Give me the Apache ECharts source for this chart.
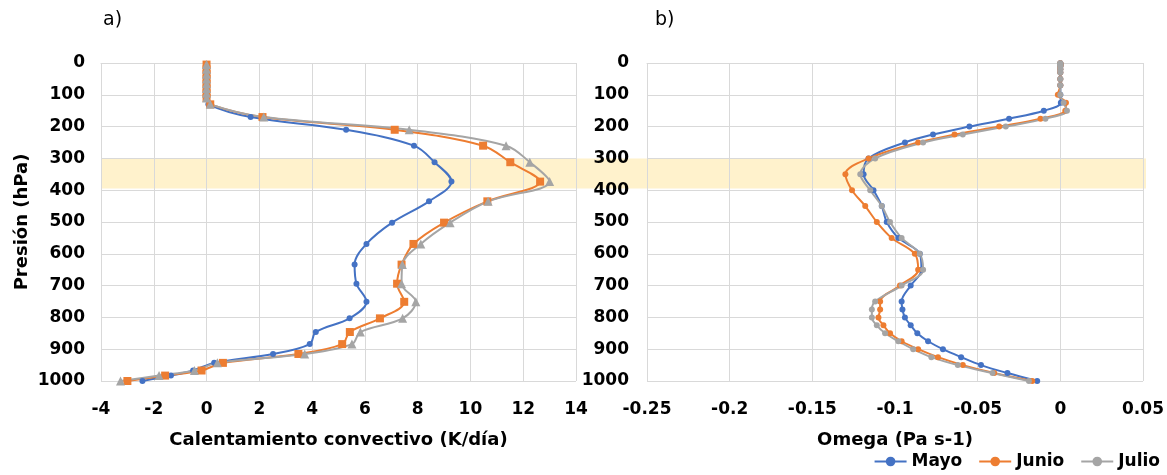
<!DOCTYPE html>
<html>
<head>
<meta charset="utf-8">
<script src="https://cdn.jsdelivr.net/npm/echarts@6/dist/echarts.min.js"></script>
<style>
  html, body { margin: 0; padding: 0; background: #fff; }
  #chart { width: 1167px; height: 475px; }
</style>
</head>
<body>
<div id="chart"></div>
<script>
// a) calentamiento convectivo, niveles del modelo (hPa)
const presA = [5, 20, 35, 50, 65, 80, 95, 110, 130, 170, 210, 260, 312, 373, 435, 502, 569, 634, 694, 751, 803, 846, 884, 915, 943, 967, 983, 1000];
const calMayo = [0, 0, 0, 0, 0, 0, 0, 0, 0.07, 1.67, 5.29, 7.86, 8.64, 9.28, 8.43, 7.03, 6.06, 5.61, 5.68, 6.06, 5.42, 4.14, 3.91, 2.52, 0.29, -0.51, -1.35, -2.43];
const calJunio = [0, 0, 0, 0, 0, 0, 0, 0, 0.14, 2.12, 7.13, 10.48, 11.51, 12.64, 10.64, 9.0, 7.84, 7.39, 7.22, 7.49, 6.57, 5.43, 5.14, 3.48, 0.62, -0.19, -1.57, -3.0];
const calJulio = [0, 0, 0, 0, 0, 0, 0, 0, 0.14, 2.17, 7.68, 11.35, 12.25, 13.0, 10.67, 9.23, 8.12, 7.42, 7.39, 7.93, 7.43, 5.83, 5.51, 3.72, 0.41, -0.46, -1.8, -3.26];

// b) omega, niveles de presion (hPa)
const presB = [1, 2, 3, 5, 7, 10, 20, 30, 50, 70, 100, 125, 150, 175, 200, 225, 250, 300, 350, 400, 450, 500, 550, 600, 650, 700, 750, 775, 800, 825, 850, 875, 900, 925, 950, 975, 1000];
const omeMayo = [0, 0, 0, 0, 0, 0, 0, 0, 0, 0, 0, 0.0003, -0.010, -0.031, -0.055, -0.077, -0.094, -0.116, -0.119, -0.113, -0.108, -0.105, -0.098, -0.085, -0.084, -0.0905, -0.096, -0.0955, -0.094, -0.0905, -0.0865, -0.080, -0.071, -0.060, -0.048, -0.032, -0.014];
const omeJunio = [0, 0, 0, 0, 0, 0, 0, 0, 0, 0, -0.0015, 0.0034, 0.003, -0.012, -0.037, -0.064, -0.086, -0.116, -0.130, -0.126, -0.118, -0.111, -0.102, -0.088, -0.086, -0.097, -0.109, -0.109, -0.110, -0.107, -0.103, -0.096, -0.086, -0.074, -0.059, -0.040, -0.017];
const omeJulio = [0, 0, 0, 0, 0, 0, 0, 0, 0, 0, 0, 0.002, 0.004, -0.009, -0.033, -0.059, -0.083, -0.112, -0.121, -0.115, -0.108, -0.103, -0.096, -0.085, -0.083, -0.096, -0.112, -0.114, -0.114, -0.111, -0.106, -0.098, -0.089, -0.078, -0.062, -0.041, -0.019];

const capa = [300, 395]; // franja resaltada

const colores = { Mayo: "#4472C4", Junio: "#ED7D31", Julio: "#A5A5A5" };
const fuente = "DejaVu Sans";

const pares = (xs, ps) => xs.map((v, i) => [v, ps[i]]);

const lbl = { color: "#000", fontFamily: fuente, fontWeight: "bold", fontSize: 17 };
const titulo = { color: "#000", fontFamily: fuente, fontWeight: "bold", fontSize: 18 };
const rejilla = { show: true, lineStyle: { color: "#D9D9D9", width: 1 } };
const ejeLinea = { show: true, lineStyle: { color: "#D9D9D9" } };
const sinComa = (v) => String(v);

const serie = (name, data, xi, simbolo, tam) => ({
	name: name,
	type: "line",
	xAxisIndex: xi,
	yAxisIndex: xi,
	data: data,
	smooth: 0.35,
	symbol: simbolo,
	symbolSize: tam,
	color: colores[name],
	lineStyle: { width: 2 },
	z: 3,
});

let myChart = echarts.init(document.getElementById("chart"));
let option = {
	animation: false,
	title: [
		{ text: "a)", left: 98, top: 6, textStyle: { fontFamily: fuente, fontWeight: "normal", fontSize: 19, color: "#000" } },
		{ text: "b)", left: 650, top: 6, textStyle: { fontFamily: fuente, fontWeight: "normal", fontSize: 19, color: "#000" } },
	],
	legend: {
		data: ["Mayo", "Junio", "Julio"],
		right: 2,
		bottom: 0,
		itemWidth: 32,
		itemHeight: 12,
		itemGap: 16,
		textStyle: { color: "#000", fontFamily: fuente, fontWeight: "bold", fontSize: 17 },
	},
	grid: [
		{ left: 101, top: 63, width: 475, height: 318 },
		{ left: 647, top: 63, width: 496, height: 318 },
		{ left: 101, top: 63, width: 1045, height: 318 },
	],
	xAxis: [
		{
			type: "value", gridIndex: 0, min: -4, max: 14, interval: 2,
			axisLine: ejeLinea, axisTick: { show: false }, splitLine: rejilla,
			axisLabel: Object.assign({ margin: 20, formatter: sinComa }, lbl),
			name: "Calentamiento convectivo (K/día)", nameLocation: "middle", nameGap: 50,
			nameTextStyle: titulo,
		},
		{
			type: "value", gridIndex: 1, min: -0.25, max: 0.05, interval: 0.05,
			axisLine: ejeLinea, axisTick: { show: false }, splitLine: rejilla,
			axisLabel: Object.assign({ margin: 20 }, lbl),
			name: "Omega (Pa s-1)", nameLocation: "middle", nameGap: 50,
			nameTextStyle: titulo,
		},
		{ type: "value", gridIndex: 2, min: 0, max: 1, show: false },
	],
	yAxis: [
		{
			type: "value", gridIndex: 0, inverse: true, min: 0, max: 1000, interval: 100,
			axisLine: ejeLinea, axisTick: { show: false }, splitLine: rejilla,
			axisLabel: Object.assign({ margin: 16, formatter: sinComa }, lbl),
			name: "Presión (hPa)", nameLocation: "middle", nameGap: 70, nameRotate: 90,
			nameTextStyle: titulo,
		},
		{
			type: "value", gridIndex: 1, inverse: true, min: 0, max: 1000, interval: 100,
			axisLine: ejeLinea, axisTick: { show: false }, splitLine: rejilla,
			axisLabel: Object.assign({ margin: 18, formatter: sinComa }, lbl),
		},
		{ type: "value", gridIndex: 2, inverse: true, min: 0, max: 1000, show: false },
	],
	series: [
		// franja primero, debajo de todo
		{
			type: "line",
			xAxisIndex: 2,
			yAxisIndex: 2,
			data: [],
			z: -5,
			silent: true,
			markArea: {
				silent: true,
				z: -5,
				itemStyle: { color: "#FFF2CC" },
				data: [[{ yAxis: capa[0] }, { yAxis: capa[1] }]],
			},
		},
		// omega antes que calentamiento: el icono de la leyenda toma el circulo
		serie("Mayo", pares(omeMayo, presB), 1, "circle", 6),
		serie("Junio", pares(omeJunio, presB), 1, "circle", 6),
		serie("Julio", pares(omeJulio, presB), 1, "circle", 6),
		serie("Mayo", pares(calMayo, presA), 0, "circle", 6),
		serie("Junio", pares(calJunio, presA), 0, "rect", 8),
		serie("Julio", pares(calJulio, presA), 0, "triangle", 9),
	],
};
myChart.setOption(option);
</script>
</body>
</html>
